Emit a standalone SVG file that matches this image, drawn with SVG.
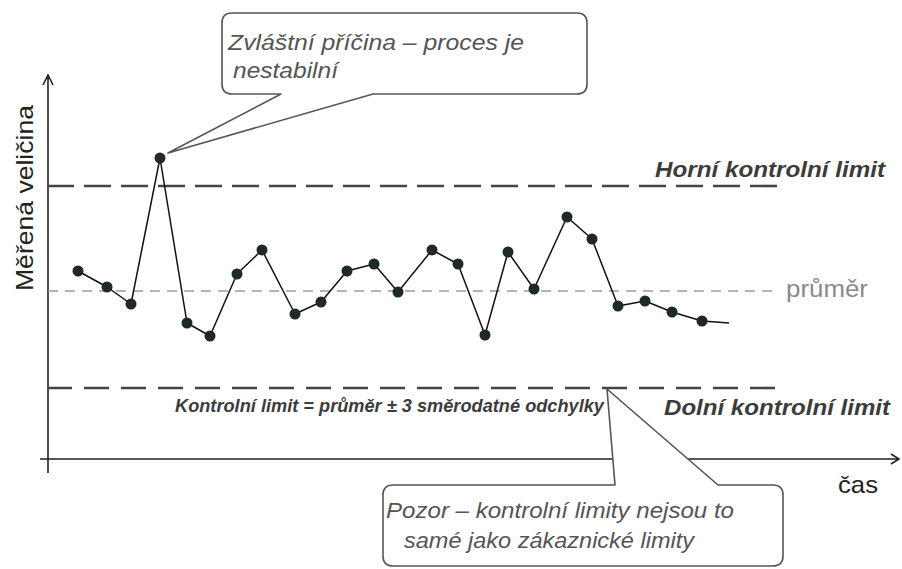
<svg xmlns="http://www.w3.org/2000/svg" width="902" height="569" viewBox="0 0 902 569">
  <style>
    .axis { stroke: #222; stroke-width: 1.6; fill: none; }
    .limit { stroke: #444; stroke-width: 2.6; stroke-dasharray: 27 10; fill: none; }
    .limit-low { stroke-dasharray: 25 12; }
    .mean { stroke: #9a9a9a; stroke-width: 1.6; stroke-dasharray: 10 7; fill: none; }
    .data { stroke: #111; stroke-width: 1.5; fill: none; stroke-linejoin: round; }
    .pt { fill: #1f2a28; }
    .callout { fill: #fff; stroke: #555; stroke-width: 1.6; stroke-linejoin: round; }
    .note { font-family: "Liberation Sans", Arial, sans-serif; font-style: italic; font-size: 22px; fill: #555; }
    .lim-label { font-family: "Liberation Sans", Arial, sans-serif; font-style: italic; font-weight: bold; font-size: 22px; fill: #3c3c3c; }
    .plain { font-family: "Liberation Sans", Arial, sans-serif; font-size: 24px; fill: #222; }
  </style>

  <rect width="902" height="569" fill="#fff"/>

  <!-- axes -->
  <g id="axes">
    <path class="axis" d="M48,473 V75 M43,85 L48,75 L53,85"/>
    <path class="axis" d="M40,459 H899 M891,454 L899,459 L891,464"/>
    <text class="plain" font-size="26" transform="translate(33,198) rotate(-90)" text-anchor="middle" textLength="186" lengthAdjust="spacingAndGlyphs">Měřená veličina</text>
    <text class="plain" x="838" y="493" textLength="40" lengthAdjust="spacingAndGlyphs">čas</text>
  </g>

  <!-- control limits and mean -->
  <g id="limits">
    <line class="limit" x1="47" y1="186" x2="778" y2="186"/>
    <line class="limit limit-low" x1="47" y1="388" x2="778" y2="388"/>
    <line class="mean" x1="48" y1="291" x2="777" y2="291"/>
    <text class="lim-label" x="655" y="177" textLength="230" lengthAdjust="spacingAndGlyphs">Horní kontrolní limit</text>
    <text class="lim-label" x="664" y="415" textLength="226" lengthAdjust="spacingAndGlyphs">Dolní kontrolní limit</text>
    <text x="786" y="297" font-family="Liberation Sans, Arial, sans-serif" font-size="23" fill="#8a8a8a" textLength="82" lengthAdjust="spacingAndGlyphs">průměr</text>
    <text x="175" y="412" font-family="Liberation Sans, Arial, sans-serif" font-size="17.5" font-style="italic" font-weight="bold" fill="#3c3c3c" textLength="429" lengthAdjust="spacingAndGlyphs">Kontrolní limit  = průměr ± 3 směrodatné odchylky</text>
  </g>

  <!-- measured series -->
  <g id="series">
    <polyline class="data" points="78,271 107,287 131,304 160,158 187,323 210,336 237,274 262,250 295,314 321,302 347,271 374,264 398,292 432,250 458,264 485,335 508,252 534,289 567,217 592,239 618,306 645,301 672,312 702,321 729,323"/>
    <g class="pt">
      <circle cx="78" cy="271" r="5.5"/>
      <circle cx="107" cy="287" r="5.5"/>
      <circle cx="131" cy="304" r="5.5"/>
      <circle cx="160" cy="158" r="5.5"/>
      <circle cx="187" cy="323" r="5.5"/>
      <circle cx="210" cy="336" r="5.5"/>
      <circle cx="237" cy="274" r="5.5"/>
      <circle cx="262" cy="250" r="5.5"/>
      <circle cx="295" cy="314" r="5.5"/>
      <circle cx="321" cy="302" r="5.5"/>
      <circle cx="347" cy="271" r="5.5"/>
      <circle cx="374" cy="264" r="5.5"/>
      <circle cx="398" cy="292" r="5.5"/>
      <circle cx="432" cy="250" r="5.5"/>
      <circle cx="458" cy="264" r="5.5"/>
      <circle cx="485" cy="335" r="5.5"/>
      <circle cx="508" cy="252" r="5.5"/>
      <circle cx="534" cy="289" r="5.5"/>
      <circle cx="567" cy="217" r="5.5"/>
      <circle cx="592" cy="239" r="5.5"/>
      <circle cx="618" cy="306" r="5.5"/>
      <circle cx="645" cy="301" r="5.5"/>
      <circle cx="672" cy="312" r="5.5"/>
      <circle cx="702" cy="321" r="5.5"/>
    </g>
  </g>

  <!-- callout: special cause -->
  <g id="callout-special">
    <path class="callout" d="M232,13 H577 Q587,13 587,23 V84 Q587,94 577,94 H373 L168,153 L281,94 H232 Q222,94 222,84 V23 Q222,13 232,13 Z"/>
    <text class="note" x="228" y="50" textLength="296" lengthAdjust="spacingAndGlyphs">Zvláštní příčina – proces je</text>
    <text class="note" x="233" y="78" textLength="105" lengthAdjust="spacingAndGlyphs">nestabilní</text>
  </g>

  <!-- callout: control vs customer limits -->
  <g id="callout-limits">
    <path class="callout" d="M393,485 H615 L607,389 L718,485 H773 Q783,485 783,495 V556 Q783,566 773,566 H393 Q383,566 383,556 V495 Q383,485 393,485 Z"/>
    <text class="note" x="386" y="518" textLength="348" lengthAdjust="spacingAndGlyphs">Pozor – kontrolní limity nejsou to</text>
    <text class="note" x="404" y="548" textLength="290" lengthAdjust="spacingAndGlyphs">samé jako zákaznické limity</text>
  </g>
</svg>
